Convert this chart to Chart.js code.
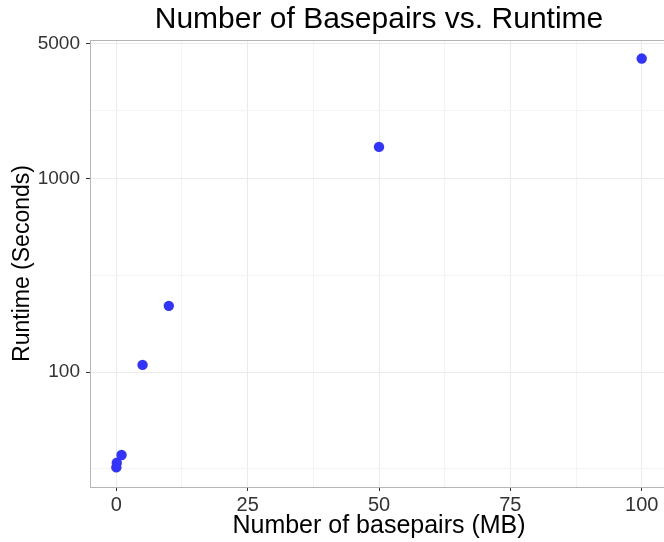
<!DOCTYPE html>
<html>
<head>
<meta charset="utf-8">
<script src="https://cdn.jsdelivr.net/npm/chart.js@4"></script>
<style>
  html, body { margin: 0; padding: 0; background: #fff; overflow: hidden; }
  #wrap { position: relative; width: 668px; height: 542px; }
</style>
</head>
<body>
<div id="wrap"><canvas id="c" width="668" height="542"></canvas></div>
<script>
// Genome size (megabases) and measured runtime (seconds)
const basepairsMB = [0.01, 0.1, 1, 5, 10, 50, 100];
const runtimeSec  = [32.2, 34.0, 37.3, 109, 220, 1458, 4170];

// Labelled axis breaks
const xBreaks = [0, 25, 50, 75, 100];
const yBreaks = [100, 1000, 5000];

// Axis extents
const xRange = [-5, 105];
const yRange = [25.5, 5200];

// Minor gridlines sit halfway between breaks (log-midpoints on the y axis)
const xMinor = [];
for (let i = 0; i < xBreaks.length - 1; i++) xMinor.push((xBreaks[i] + xBreaks[i + 1]) / 2);
const yMinor = [Math.sqrt(10 * yBreaks[0])];
for (let i = 0; i < yBreaks.length - 1; i++) yMinor.push(Math.sqrt(yBreaks[i] * yBreaks[i + 1]));

const xTicks = xBreaks.concat(xMinor).sort((a, b) => a - b);
const yTicks = yBreaks.concat(yMinor).sort((a, b) => a - b);

const FONT = "'Liberation Sans', Arial, Helvetica, sans-serif";
const isMajorX = v => xBreaks.includes(v);
const isMajorY = v => yBreaks.some(b => Math.abs(b - v) < 1e-6);

// Thin frame around the plotting panel
const panelBorder = {
  id: 'panelBorder',
  afterDraw(chart) {
    const a = chart.chartArea, ctx = chart.ctx;
    ctx.save();
    ctx.strokeStyle = '#b5b5b5';
    ctx.lineWidth = 1;
    ctx.strokeRect(Math.round(a.left) + 0.5, Math.round(a.top) + 0.5,
                   Math.round(a.right - a.left), Math.round(a.bottom - a.top));
    ctx.restore();
  }
};

new Chart(document.getElementById('c'), {
  type: 'scatter',
  data: {
    datasets: [{
      data: basepairsMB.map((x, i) => ({ x: x, y: runtimeSec[i] })),
      backgroundColor: '#3333ff',
      borderColor: '#3333ff',
      borderWidth: 0,
      pointRadius: 5.2,
      pointHoverRadius: 5.2
    }]
  },
  plugins: [panelBorder],
  options: {
    responsive: false,
    animation: false,
    layout: { autoPadding: false, padding: 0 },
    plugins: {
      legend: { display: false },
      tooltip: { enabled: false },
      title: {
        display: true,
        fullSize: false,
        text: 'Number of Basepairs vs. Runtime',
        color: '#000',
        font: { family: FONT, size: 30, weight: 'normal' },
        padding: { top: 2, bottom: 2 }
      }
    },
    scales: {
      x: {
        type: 'linear',
        min: xRange[0],
        max: xRange[1],
        afterBuildTicks: s => { s.ticks = xTicks.map(v => ({ value: v })); },
        afterFit: s => { s.height = 55; },
        border: { display: false },
        grid: {
          color: c => isMajorX(c.tick.value) ? '#ebebeb' : '#f4f4f4',
          tickColor: c => isMajorX(c.tick.value) ? '#333' : 'rgba(0,0,0,0)',
          tickLength: 4,
          lineWidth: 1
        },
        ticks: {
          autoSkip: false,
          maxRotation: 0,
          padding: 2,
          color: '#333',
          font: { family: FONT, size: 20 },
          callback: v => isMajorX(v) ? String(v) : ''
        },
        title: {
          display: true,
          text: 'Number of basepairs (MB)',
          color: '#000',
          font: { family: FONT, size: 25 },
          padding: { top: 0, bottom: 1.3 }
        }
      },
      y: {
        type: 'logarithmic',
        min: yRange[0],
        max: yRange[1],
        afterBuildTicks: s => { s.ticks = yTicks.map(v => ({ value: v })); },
        afterFit: s => { s.width = 90; },
        border: { display: false },
        grid: {
          color: c => isMajorY(c.tick.value) ? '#ebebeb' : '#f4f4f4',
          tickColor: c => isMajorY(c.tick.value) ? '#333' : 'rgba(0,0,0,0)',
          tickLength: 4,
          lineWidth: 1
        },
        ticks: {
          autoSkip: false,
          padding: 6,
          color: '#333',
          font: { family: FONT, size: 19 },
          callback: v => isMajorY(v) ? String(Math.round(v)) : ''
        },
        title: {
          display: true,
          text: 'Runtime (Seconds)',
          color: '#000',
          font: { family: FONT, size: 23 },
          padding: { top: 9, bottom: 0 }
        }
      }
    }
  }
});
</script>
</body>
</html>
